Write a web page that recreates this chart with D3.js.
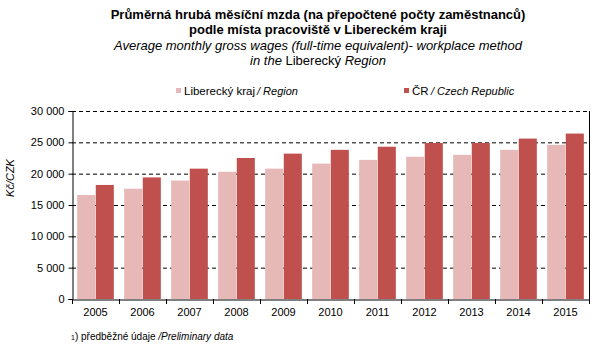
<!DOCTYPE html>
<html><head><meta charset="utf-8">
<script src="https://cdn.jsdelivr.net/npm/d3@7/dist/d3.min.js"></script>
<style>body{margin:0;background:#fff;} svg{display:block;font-family:"Liberation Sans",Arial,sans-serif;}</style>
</head><body>
<svg id="c" width="602" height="346"></svg>
<script>
const years = ["2005","2006","2007","2008","2009","2010","2011","2012","2013","2014","2015"];
const liberec = [16600,17600,18900,20300,20800,21600,22200,22700,23000,23800,24600];
const czech = [18200,19400,20800,22500,23200,23800,24300,24900,24900,25600,26400];
const yTicks = [0,5000,10000,15000,20000,25000,30000];
const seriesNames = ["liberec","czech"];
const colors = {liberec:"#E6B8B7", czech:"#C0504D"};

const svg = d3.select("#c");
const m = {left:72, right:589, top:111, bottom:299};
const x = d3.scaleBand().domain(years).range([m.left,m.right]).paddingInner(0.22).paddingOuter(0.11);
const x1 = d3.scaleBand().domain(seriesNames).range([0,x.bandwidth()]).paddingInner(0.03);
const y = d3.scaleLinear().domain([0,30000]).range([m.bottom,m.top]);
const fmt = v => d3.format(",")(v).replace(/,/g," ");

// gridlines
svg.append("g").selectAll("line").data(yTicks.filter(d=>d>0)).join("line")
  .attr("x1",m.left).attr("x2",m.right).attr("y1",d=>y(d)+0.5).attr("y2",d=>y(d)+0.5)
  .attr("stroke","#000").attr("stroke-width",1).attr("stroke-dasharray","4,3");

// bars
const g = svg.append("g").selectAll("g").data(years).join("g")
  .attr("transform",d=>`translate(${x(d)},0)`);
g.append("rect").attr("x",x1("liberec")).attr("width",x1.bandwidth())
  .attr("y",(d,i)=>y(liberec[i])).attr("height",(d,i)=>y(0)-y(liberec[i])).attr("fill",colors.liberec);
g.append("rect").attr("x",x1("czech")).attr("width",x1.bandwidth())
  .attr("y",(d,i)=>y(czech[i])).attr("height",(d,i)=>y(0)-y(czech[i])).attr("fill",colors.czech);

// right border
svg.append("line").attr("x1",m.right+0.5).attr("x2",m.right+0.5).attr("y1",m.top).attr("y2",m.bottom)
  .attr("stroke","#000");

// y axis
const ya = svg.append("g").attr("transform",`translate(${m.left+0.5},0)`)
  .call(d3.axisLeft(y).tickValues(yTicks).tickFormat(fmt).tickSize(4).tickPadding(4));
ya.select(".domain").attr("stroke","#000");
ya.selectAll("text").attr("font-size",11).attr("fill","#000").attr("font-family","Liberation Sans, Arial, sans-serif");

// x axis
const xa = svg.append("g").attr("transform",`translate(0,${m.bottom+0.5})`)
  .call(d3.axisBottom(x).tickSize(0).tickPadding(9));
xa.select(".domain").attr("stroke","#000");
xa.selectAll("text").attr("font-size",11).attr("fill","#000").attr("font-family","Liberation Sans, Arial, sans-serif");
// tick marks at band boundaries
const bounds = years.map(d=>x(d)-x.step()*x.paddingInner()/2).concat([m.right]);
svg.append("g").selectAll("line").data(bounds).join("line")
  .attr("x1",d=>Math.round(d)+0.5).attr("x2",d=>Math.round(d)+0.5)
  .attr("y1",m.bottom).attr("y2",m.bottom+5).attr("stroke","#000");

// y title
svg.append("text").attr("transform","translate(14,178) rotate(-90)").attr("text-anchor","middle")
  .attr("font-size",11).attr("font-style","italic").text("Kč/CZK");

// titles
const cx = 318;
svg.append("text").attr("x",cx).attr("y",19).attr("text-anchor","middle").attr("font-size",13).attr("font-weight","bold")
  .text("Průměrná hrubá měsíční mzda (na přepočtené počty zaměstnanců)");
svg.append("text").attr("x",cx).attr("y",34).attr("text-anchor","middle").attr("font-size",13).attr("font-weight","bold")
  .text("podle místa pracoviště v Libereckém kraji");
svg.append("text").attr("x",cx).attr("y",50).attr("text-anchor","middle").attr("font-size",13).attr("font-style","italic")
  .text("Average monthly gross wages (full-time equivalent)- workplace method");
const t4 = svg.append("text").attr("x",cx).attr("y",65).attr("text-anchor","middle").attr("font-size",13);
t4.append("tspan").attr("font-style","italic").text("in the ");
t4.append("tspan").text("Liberecký ");
t4.append("tspan").attr("font-style","italic").text("Region");

// legend
const leg = [
  {key:"liberec", x:176, a:"Liberecký kraj", bx:257, b:"/ Region"},
  {key:"czech", x:404, a:"ČR", bx:431, b:"/ Czech Republic"}
];
leg.forEach(l=>{
  svg.append("rect").attr("x",l.x).attr("y",88).attr("width",5).attr("height",5).attr("fill",colors[l.key]);
  svg.append("text").attr("x",l.x+8).attr("y",95).attr("font-size",11.5).text(l.a);
  svg.append("text").attr("x",l.bx).attr("y",95).attr("font-size",11).attr("font-style","italic").text(l.b);
});

// footnote
const f = svg.append("text").attr("x",71).attr("y",340).attr("font-size",10);
f.append("tspan").attr("font-size",7).text("1");
f.append("tspan").text(") předběžné údaje ");
f.append("tspan").attr("font-style","italic").text("/Preliminary data");
</script>
</body></html>
